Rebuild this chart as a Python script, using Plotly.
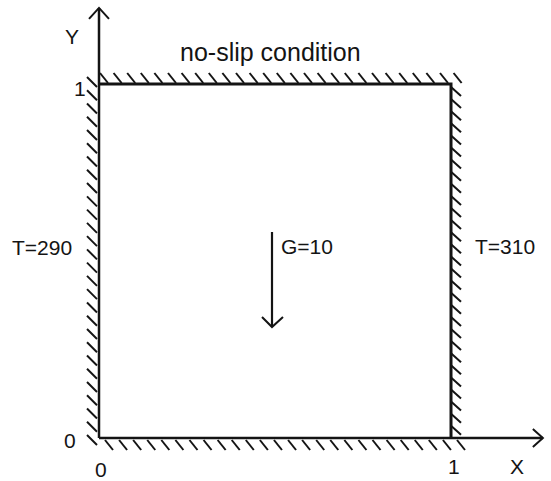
import plotly.graph_objects as go

# ---- data (domain coordinates, unit square) ----
box_x = [0, 1, 1]
box_y = [1, 1, 0]
xaxis_x = [0, 1.261]
xaxis_y = [0, 0]
yaxis_x = [0, 0]
yaxis_y = [0, 1.215]
x_tick_vals = [0, 1]
x_tick_text = ["0", "1"]
y_tick_vals = [0, 1]
y_tick_text = ["0", "1"]
gravity_value = 10
temp_left = 290
temp_right = 310
wall_label = "no-slip condition"

# ---- geometry helpers (pixel <-> data for this 551x481 page) ----
W, H = 551, 481
X0PX, X1PX = 99, 451
Y0PX, Y1PX = 438, 84
sx = (X1PX - X0PX)  # px per unit
sy = (Y0PX - Y1PX)
xr = [-X0PX / sx, (W - X0PX) / sx]
yr = [-(H - Y0PX) / sy, Y0PX / sy]

def dx(p):
    return p / sx

def dy(p):
    return p / sy

INK = "#141414"
FONT = "Liberation Sans, Arial, sans-serif"

def hatch(starts, ddx, ddy):
    xs, ys = [], []
    for (a, b) in starts:
        xs += [a, a + ddx, None]
        ys += [b, b + ddy, None]
    return xs, ys

# hatch marks along the four walls (decoration)
top_starts = [(dx(1 + 13.6 * i), 1 + dy(11)) for i in range(27)]
left_starts = [(-dx(12), 1 + dy(7) - dy(13.26 * i)) for i in range(28)]
right_starts = [(1, 1 - dy(3) - dy(12.1 * i)) for i in range(29)]
bottom_starts = [(dx(6 + 14.08 * i), -dy(2)) for i in range(26)]

fig = go.Figure()

for starts, ddx, ddy in [
    (top_starts, dx(8), -dy(10)),
    (left_starts, dx(10), -dy(10)),
    (right_starts, dx(10), -dy(9)),
    (bottom_starts, dx(8), -dy(10)),
]:
    hx, hy = hatch(starts, ddx, ddy)
    fig.add_trace(go.Scatter(x=hx, y=hy, mode="lines",
                             line=dict(color=INK, width=2), hoverinfo="skip"))

# box
fig.add_trace(go.Scatter(x=box_x, y=box_y, mode="lines",
                         line=dict(color=INK, width=3), hoverinfo="skip"))
# axes
fig.add_trace(go.Scatter(x=xaxis_x, y=xaxis_y, mode="lines",
                         line=dict(color=INK, width=2.5), hoverinfo="skip"))
fig.add_trace(go.Scatter(x=yaxis_x, y=yaxis_y, mode="lines",
                         line=dict(color=INK, width=2.5), hoverinfo="skip"))

# open arrowheads
def vhead_up(x, y):
    return [x - dx(10), x, x + dx(10)], [y - dy(11), y, y - dy(11)]

def vhead_down(x, y):
    return [x - dx(10), x, x + dx(11)], [y + dy(10), y, y + dy(10)]

def vhead_right(x, y):
    return [x - dx(10), x, x - dx(10)], [y + dy(9), y, y - dy(9)]

ax_, ay_ = vhead_up(yaxis_x[1], yaxis_y[1])
fig.add_trace(go.Scatter(x=ax_, y=ay_, mode="lines", line=dict(color=INK, width=2), hoverinfo="skip"))
ax_, ay_ = vhead_right(xaxis_x[1], xaxis_y[1])
fig.add_trace(go.Scatter(x=ax_, y=ay_, mode="lines", line=dict(color=INK, width=2), hoverinfo="skip"))

# gravity arrow
gx = dx(272 - X0PX)
g_top = dy(Y0PX - 232)
g_bot = dy(Y0PX - 327)
fig.add_trace(go.Scatter(x=[gx, gx], y=[g_top, g_bot], mode="lines",
                         line=dict(color=INK, width=2.2), hoverinfo="skip"))
ax_, ay_ = vhead_down(gx, g_bot)
fig.add_trace(go.Scatter(x=ax_, y=ay_, mode="lines", line=dict(color=INK, width=2), hoverinfo="skip"))

def px2d(px, py):
    return (px - X0PX) / sx, (Y0PX - py) / sy

def label(text, px, py, size=21):
    x, y = px2d(px, py)
    fig.add_annotation(x=x, y=y, text=text, showarrow=False,
                       xanchor="center", yanchor="middle",
                       font=dict(family=FONT, size=size, color=INK))

label(wall_label, 270, 52, size=25)
label("Y", 72, 36)
label("X", 517, 466)
label(y_tick_text[1], 80, 88)
label(y_tick_text[0], 70, 440)
label(x_tick_text[0], 101, 469)
label(x_tick_text[1], 454, 466)
label(f"T={temp_left}", 42, 247)
label(f"T={temp_right}", 505, 246)
label(f"G={gravity_value}", 307, 246)

fig.update_layout(
    width=W, height=H,
    margin=dict(l=0, r=0, t=0, b=0),
    paper_bgcolor="white", plot_bgcolor="white",
    showlegend=False,
    xaxis=dict(range=xr, visible=False, fixedrange=True),
    yaxis=dict(range=yr, visible=False, fixedrange=True),
)

fig.write_html("out.html")
